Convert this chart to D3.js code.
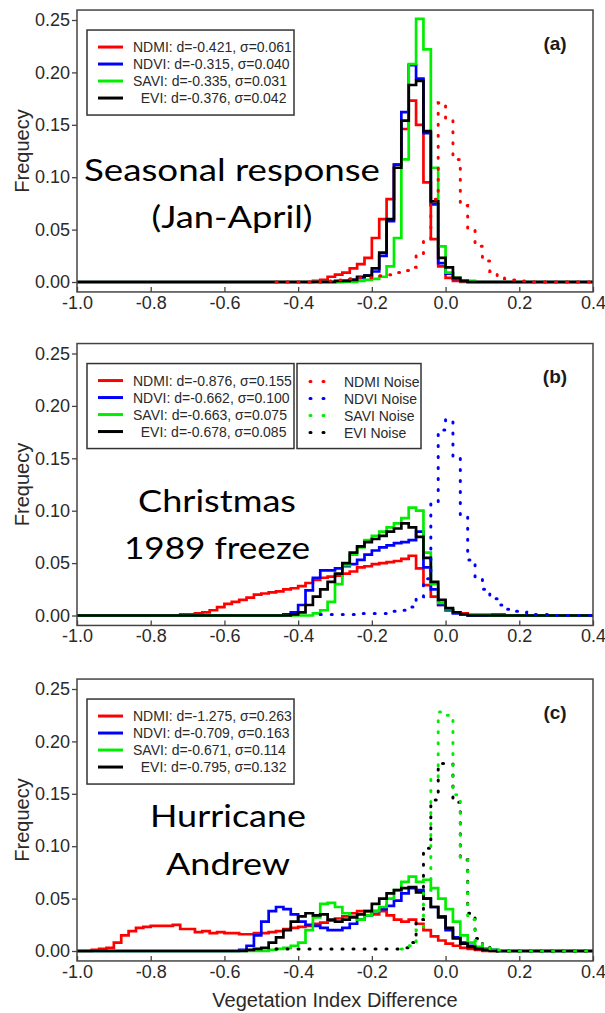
<!DOCTYPE html>
<html>
<head>
<meta charset="utf-8">
<script src="https://cdn.jsdelivr.net/npm/d3@7"></script>
<style>
  body { margin: 0; background: #fff; }
  text { font-family: "Liberation Sans", Arial, sans-serif; }
  .note { font-family: Lato, "Open Sans", sans-serif; }
</style>
</head>
<body>
<div id="chart"></div>
<script>
// histogram bins: 0.02 wide, left edges from -1.0 to 0.38
var binWidth = 0.02;
var xTicks = [-1.0, -0.8, -0.6, -0.4, -0.2, 0.0, 0.2, 0.4];
var yTicks = [0.00, 0.05, 0.10, 0.15, 0.20, 0.25];
var indexNames = ['NDMI', 'NDVI', 'SAVI', 'EVI'];
var indexColors = ['#ff0000', '#0000ff', '#00ee00', '#000000'];

// (a) seasonal response - each array starts at the bin given by *From
var aNdmiFrom = -0.36;
var aNdmi = [0.001, 0.002, 0.005, 0.007, 0.009, 0.013, 0.017, 0.023, 0.042, 0.060, 0.079, 0.112, 0.146, 0.173, 0.150, 0.095, 0.041, 0.015, 0.004, 0.001];
var aNdviFrom = -0.28;
var aNdvi = [0.001, 0.002, 0.004, 0.006, 0.010, 0.025, 0.058, 0.112, 0.162, 0.207, 0.194, 0.142, 0.074, 0.018, 0.008, 0.003, 0.001];
var aSaviFrom = -0.24;
var aSavi = [0.001, 0.002, 0.003, 0.005, 0.015, 0.042, 0.117, 0.208, 0.251, 0.222, 0.109, 0.034, 0.009, 0.004, 0.001, 0.001];
var aEviFrom = -0.30;
var aEvi = [0.001, 0.001, 0.002, 0.005, 0.006, 0.013, 0.028, 0.060, 0.109, 0.154, 0.188, 0.192, 0.144, 0.077, 0.023, 0.014, 0.004, 0.001];
var aNdmiNoiseFrom = -0.46;
var aNdmiNoise = [0, 0, 0, 0, 0, 0, 0.001, 0.001, 0.002, 0.002, 0.003, 0.004, 0.004, 0.005, 0.006, 0.007, 0.009, 0.011, 0.014, 0.025,
  0.040, 0.079, 0.171, 0.155, 0.117, 0.073, 0.050, 0.034, 0.020, 0.010, 0.005, 0.003, 0.002, 0.001];
var aLegend = ['NDMI: d=-0.421, \u03c3=0.061', 'NDVI: d=-0.315, \u03c3=0.040', 'SAVI: d=-0.335, \u03c3=0.031', '  EVI: d=-0.376, \u03c3=0.042'];
var aNote = ['Seasonal response', '(Jan-April)'];

// (b) Christmas 1989 freeze
var bNdmiFrom = -0.72;
var bNdmi = [0.001, 0.001, 0.002, 0.003, 0.005, 0.008, 0.011, 0.013, 0.015, 0.017, 0.020, 0.021, 0.022, 0.023, 0.025, 0.026, 0.028,
  0.031, 0.034, 0.036, 0.037, 0.038, 0.040, 0.042, 0.046, 0.047, 0.049, 0.050, 0.051, 0.052, 0.054, 0.057, 0.045, 0.029, 0.018,
  0.010, 0.005, 0.003, 0.002, 0.001, 0.001, 0.001, 0.001, 0.001];
var bNdviFrom = -0.44;
var bNdvi = [0.001, 0.003, 0.010, 0.024, 0.036, 0.043, 0.043, 0.045, 0.047, 0.049, 0.053, 0.058, 0.062, 0.065, 0.067, 0.069, 0.070,
  0.072, 0.080, 0.046, 0.025, 0.010, 0.005, 0.002, 0.001];
var bSaviFrom = -0.36;
var bSavi = [0.002, 0.005, 0.013, 0.030, 0.048, 0.058, 0.065, 0.072, 0.076, 0.080, 0.084, 0.088, 0.093, 0.103, 0.100, 0.060, 0.030,
  0.012, 0.006, 0.003, 0.001, 0.001, 0.001, 0.001];
var bEviFrom = -0.42;
var bEvi = [0.001, 0.003, 0.010, 0.018, 0.025, 0.032, 0.040, 0.050, 0.060, 0.066, 0.070, 0.073, 0.076, 0.080, 0.083, 0.088, 0.084,
  0.075, 0.055, 0.032, 0.015, 0.007, 0.003, 0.001];
var bNdviNoiseFrom = -0.34;
var bNdviNoise = [0.001, 0.001, 0.001, 0.001, 0.001, 0.002, 0.002, 0.002, 0.002, 0.003, 0.004, 0.005, 0.008, 0.018, 0.035, 0.108,
  0.177, 0.187, 0.151, 0.094, 0.053, 0.035, 0.025, 0.016, 0.010, 0.006, 0.004, 0.003, 0.002, 0.001, 0.001];
var bLegend = ['NDMI: d=-0.876, \u03c3=0.155', 'NDVI: d=-0.662, \u03c3=0.100', 'SAVI: d=-0.663, \u03c3=0.075', '  EVI: d=-0.678, \u03c3=0.085'];
var bNoiseLegend = ['NDMI Noise', 'NDVI Noise', 'SAVI Noise', 'EVI Noise'];
var bNote = ['Christmas', '1989 freeze'];

// (c) Hurricane Andrew
var cNdmiFrom = -0.96;
var cNdmi = [0.001, 0.002, 0.003, 0.008, 0.015, 0.019, 0.022, 0.023, 0.024, 0.024, 0.024, 0.025, 0.021, 0.021, 0.018, 0.019, 0.017,
  0.018, 0.017, 0.017, 0.016, 0.016, 0.017, 0.017, 0.018, 0.019, 0.021, 0.022, 0.023, 0.024, 0.026, 0.027, 0.029, 0.031, 0.033,
  0.036, 0.038, 0.038, 0.035, 0.038, 0.034, 0.030, 0.028, 0.030, 0.026, 0.020, 0.014, 0.010, 0.007, 0.005, 0.003, 0.002, 0.001];
var cNdviFrom = -0.56;
var cNdvi = [0.001, 0.005, 0.015, 0.028, 0.038, 0.042, 0.040, 0.035, 0.028, 0.025, 0.024, 0.022, 0.020, 0.020, 0.022, 0.026, 0.030,
  0.034, 0.038, 0.040, 0.043, 0.048, 0.055, 0.060, 0.058, 0.050, 0.042, 0.033, 0.020, 0.013, 0.008, 0.005, 0.003, 0.002, 0.001];
var cSaviFrom = -0.48;
var cSavi = [0.001, 0.002, 0.003, 0.005, 0.008, 0.020, 0.032, 0.045, 0.046, 0.042, 0.036, 0.033, 0.030, 0.034, 0.038, 0.042, 0.050,
  0.058, 0.066, 0.071, 0.066, 0.068, 0.060, 0.050, 0.040, 0.028, 0.015, 0.008, 0.004, 0.002, 0.001];
var cEviFrom = -0.54;
var cEvi = [0.001, 0.002, 0.003, 0.008, 0.013, 0.020, 0.028, 0.033, 0.036, 0.034, 0.035, 0.030, 0.028, 0.030, 0.032, 0.035, 0.038,
  0.045, 0.050, 0.055, 0.058, 0.060, 0.061, 0.056, 0.050, 0.042, 0.032, 0.022, 0.012, 0.007, 0.004, 0.002, 0.001];
var cEviNoiseFrom = -0.46;
var cEviNoise = [0.002, 0.002, 0.002, 0.002, 0.002, 0.002, 0.002, 0.002, 0.002, 0.002, 0.002, 0.002, 0.002, 0.002, 0.002, 0.002,
  0.002, 0.003, 0.008, 0.030, 0.098, 0.144, 0.179, 0.179, 0.142, 0.087, 0.036, 0.012, 0.004, 0.002];
var cSaviNoiseFrom = -0.12;
var cSaviNoise = [0.002, 0.005, 0.020, 0.058, 0.166, 0.228, 0.225, 0.149, 0.087, 0.030, 0.010, 0.004, 0.002, 0.001];
var cLegend = ['NDMI: d=-1.275, \u03c3=0.263', 'NDVI: d=-0.709, \u03c3=0.163', 'SAVI: d=-0.671, \u03c3=0.114', '  EVI: d=-0.795, \u03c3=0.132'];
var cNote = ['Hurricane', 'Andrew'];

var svg = d3.select('#chart').append('svg')
  .attr('width', 605)
  .attr('height', 1013);

var x = d3.scaleLinear().domain([-1.0, 0.4]).range([77, 593]);

// step points for a histogram; full = run the line from -1.0 instead of from the first bin
function stepPoints(from, vals, full) {
  var start = full ? -1.0 : from;
  var n = Math.round((0.4 - start) / binWidth);
  var off = Math.round((from - start) / binWidth);
  var pts = [];
  for (var i = 0; i < n; i++) {
    var k = i - off;
    pts.push([start + i * binWidth, (k >= 0 && k < vals.length) ? vals[k] : 0]);
  }
  pts.push([0.4, pts[pts.length - 1][1]]);
  return pts;
}

var panels = [
  { zero: 282, tag: '(a)', legend: aLegend, note: aNote, noteY: [181, 228], noteX: [232, 232], noteW: [296, 161],
    solid: [[aNdmiFrom, aNdmi], [aNdviFrom, aNdvi], [aSaviFrom, aSavi], [aEviFrom, aEvi]],
    dotted: [[aNdmiNoiseFrom, aNdmiNoise, 0]] },
  { zero: 615.5, tag: '(b)', legend: bLegend, note: bNote, noteY: [512, 559], noteX: [217, 217], noteW: [158, 186],
    solid: [[bNdmiFrom, bNdmi], [bNdviFrom, bNdvi], [bSaviFrom, bSavi], [bEviFrom, bEvi]],
    dotted: [[bNdviNoiseFrom, bNdviNoise, 1]], noise: true },
  { zero: 951, tag: '(c)', legend: cLegend, note: cNote, noteY: [827, 875], noteX: [228, 228], noteW: [156, 124],
    solid: [[cNdmiFrom, cNdmi], [cNdviFrom, cNdvi], [cSaviFrom, cSavi], [cEviFrom, cEvi]],
    dotted: [[cEviNoiseFrom, cEviNoise, 3], [cSaviNoiseFrom, cSaviNoise, 2]], xTitle: true }
];

panels.forEach(function (p) {
  var y = d3.scaleLinear().domain([0, 0.25]).range([p.zero, p.zero - 262]);
  var top = y(0.2595), bottom = y(-0.0095);
  var g = svg.append('g');

  // axes
  g.append('g')
    .attr('transform', 'translate(' + x(-1.0) + ',0)')
    .call(d3.axisLeft(y).tickValues(yTicks).tickFormat(function (d) { return d.toFixed(2); })
      .tickSize(5).tickPadding(2));
  g.append('g')
    .attr('transform', 'translate(0,' + bottom + ')')
    .call(d3.axisBottom(x).tickValues(xTicks).tickFormat(function (d) { return d.toFixed(1); })
      .tickSizeInner(-5).tickSizeOuter(0).tickPadding(4));
  g.selectAll('.domain').remove();
  g.selectAll('.tick line').attr('stroke', '#444').attr('stroke-width', 1.3);
  g.selectAll('.tick text').attr('fill', '#2a2a2a').style('font-size', '18px');

  g.append('text')
    .attr('transform', 'translate(22,' + ((y(0) + y(0.25)) / 2) + ') rotate(-90)')
    .attr('text-anchor', 'middle')
    .attr('dominant-baseline', 'central')
    .attr('fill', '#2a2a2a')
    .style('font-size', '20px')
    .text('Frequecy');

  // histogram lines
  var line = d3.line()
    .x(function (d) { return x(d[0]); })
    .y(function (d) { return y(d[1]); })
    .curve(d3.curveStepAfter);

  p.solid.forEach(function (s, i) {
    g.append('path')
      .datum(stepPoints(s[0], s[1], true))
      .attr('fill', 'none')
      .attr('stroke', indexColors[i])
      .attr('stroke-width', 2.7)
      .attr('d', line);
  });
  p.dotted.forEach(function (s) {
    g.append('path')
      .datum(stepPoints(s[0], s[1], false))
      .attr('fill', 'none')
      .attr('stroke', indexColors[s[2]])
      .attr('stroke-width', 3)
      .attr('stroke-linecap', 'round')
      .attr('stroke-dasharray', '1,10')
      .attr('d', line);
  });

  // plot frame
  g.append('rect')
    .attr('x', x(-1.0)).attr('y', top)
    .attr('width', x(0.4) - x(-1.0)).attr('height', bottom - top)
    .attr('fill', 'none').attr('stroke', '#444').attr('stroke-width', 1.5);

  // legend
  var ly = top + 20;
  g.append('rect')
    .attr('x', 87).attr('y', ly).attr('width', 207).attr('height', 85)
    .attr('fill', '#fff').attr('stroke', '#333').attr('stroke-width', 1.5);
  p.legend.forEach(function (t, i) {
    g.append('line')
      .attr('x1', 98).attr('x2', 123)
      .attr('y1', ly + 17 + i * 17).attr('y2', ly + 17 + i * 17)
      .attr('stroke', indexColors[i]).attr('stroke-width', 3);
    g.append('text')
      .attr('x', 133).attr('y', ly + 17 + i * 17)
      .attr('dominant-baseline', 'central')
      .attr('fill', '#2a2a2a')
      .style('font-size', '14px')
      .style('white-space', 'pre')
      .text(t);
  });
  if (p.noise) {
    g.append('rect')
      .attr('x', 297).attr('y', ly).attr('width', 124).attr('height', 85)
      .attr('fill', '#fff').attr('stroke', '#333').attr('stroke-width', 1.5);
    bNoiseLegend.forEach(function (t, i) {
      g.append('line')
        .attr('x1', 310).attr('x2', 324)
        .attr('y1', ly + 18 + i * 17).attr('y2', ly + 18 + i * 17)
        .attr('stroke', indexColors[i]).attr('stroke-width', 3)
        .attr('stroke-linecap', 'round')
        .attr('stroke-dasharray', '1,12');
      g.append('text')
        .attr('x', 344).attr('y', ly + 18 + i * 17)
        .attr('dominant-baseline', 'central')
        .attr('fill', '#2a2a2a')
        .style('font-size', '14px')
        .text(t);
    });
  }

  // panel tag
  g.append('text')
    .attr('x', 555).attr('y', top + 33)
    .attr('text-anchor', 'middle')
    .attr('dominant-baseline', 'central')
    .attr('fill', '#1a1a1a')
    .style('font-size', '19px')
    .style('font-weight', 'bold')
    .text(p.tag);

  // big annotation
  p.note.forEach(function (t, i) {
    g.append('text')
      .attr('class', 'note')
      .attr('x', p.noteX[i] - p.noteW[i] / 2).attr('y', p.noteY[i])
      .attr('textLength', p.noteW[i])
      .attr('lengthAdjust', 'spacingAndGlyphs')
      .attr('fill', '#000')
      .style('font-size', '31px')
      .text(t);
  });

  if (p.xTitle) {
    g.append('text')
      .attr('x', (x(-1.0) + x(0.4)) / 2).attr('y', 1000)
      .attr('text-anchor', 'middle')
      .attr('dominant-baseline', 'central')
      .attr('fill', '#2a2a2a')
      .style('font-size', '20px')
      .text('Vegetation Index Difference');
  }
});
</script>
</body>
</html>
